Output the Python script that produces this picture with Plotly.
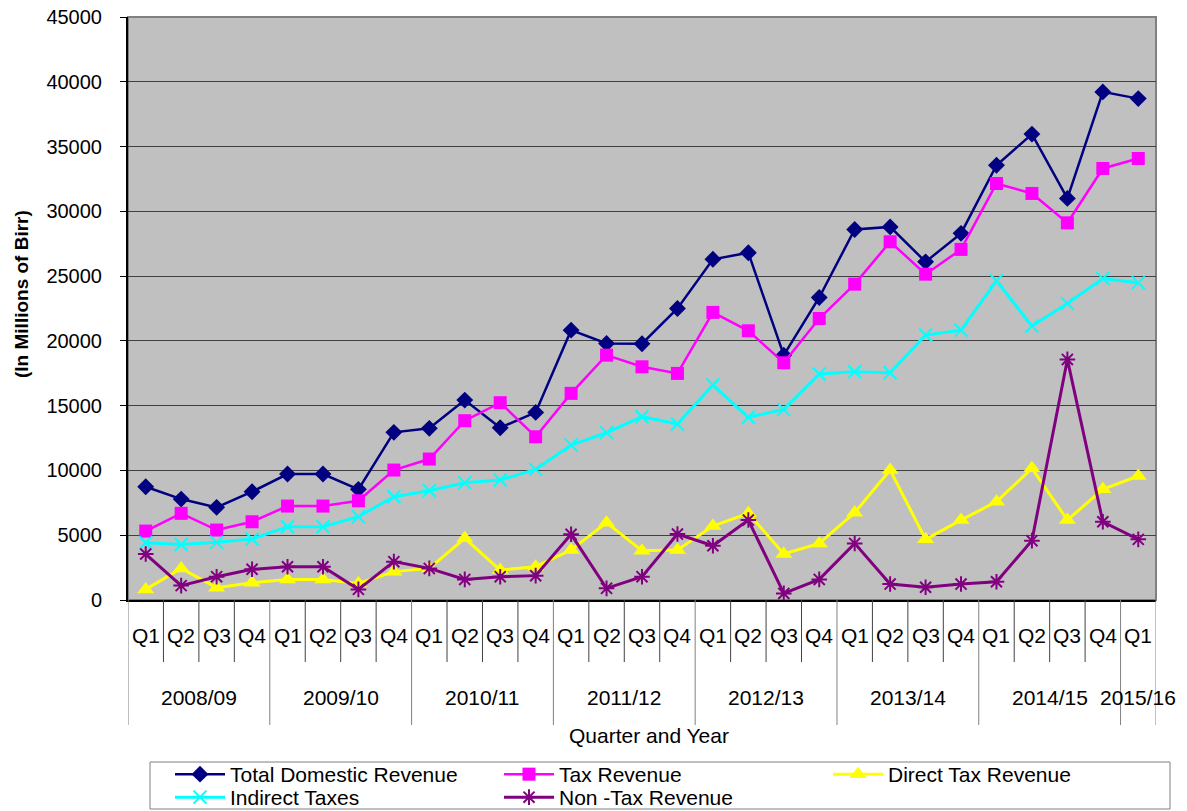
import plotly.graph_objects as go

years = (["2008/09"] * 4 + ["2009/10"] * 4 + ["2010/11"] * 4 + ["2011/12"] * 4 +
         ["2012/13"] * 4 + ["2013/14"] * 4 + ["2014/15"] * 4 + ["2015/16"])
quarters = ["Q1", "Q2", "Q3", "Q4"] * 7 + ["Q1"]

total_domestic = [8740, 7790, 7150, 8360, 9720, 9720, 8540, 12940, 13250, 15430, 13300, 14480,
                  20830, 19800, 19780, 22500, 26300, 26800, 18900, 23350, 28600, 28800, 26100, 28300,
                  33560, 35960, 31000, 39220, 38700]
tax_revenue = [5320, 6690, 5400, 6040, 7250, 7250, 7660, 10030, 10880, 13840, 15230, 12600,
               15950, 18900, 18000, 17490, 22200, 20780, 18310, 21730, 24380, 27650, 25150, 27060,
               32150, 31380, 29110, 33310, 34080]
direct_tax = [820, 2440, 950, 1340, 1590, 1590, 1280, 2190, 2440, 4760, 2310, 2570,
              3860, 5970, 3810, 3860, 5710, 6690, 3550, 4370, 6740, 10030, 4680, 6170,
              7590, 10160, 6170, 8540, 9570]
indirect_tax = [4420, 4290, 4450, 4710, 5660, 5660, 6430, 7970, 8440, 9050, 9260, 10080,
                11960, 12910, 14150, 13580, 16590, 14100, 14710, 17440, 17620, 17540, 20450, 20830,
                24640, 21140, 22890, 24820, 24490]
non_tax = [3550, 1110, 1800, 2370, 2570, 2570, 820, 2960, 2440, 1590, 1800, 1880,
           5070, 900, 1800, 5090, 4190, 6170, 510, 1590, 4370, 1230, 980, 1230,
           1410, 4580, 18570, 6040, 4680]

FONT = "Arial, Liberation Sans, sans-serif"
x = list(range(len(quarters)))

# layout geometry (pixels)
W, H = 1187, 811
ML, MR, MT, MB = 128, 31, 17, 211
PW = W - ML - MR
PH = H - MT - MB


def px_x(p):
    return (p - ML) / PW


def px_y(p):
    return (H - MB - p) / PH


fig = go.Figure()

series = [
    ("Total Domestic Revenue", total_domestic, "#000080", "diamond", 13, 2.5, "legend"),
    ("Tax Revenue", tax_revenue, "#FF00FF", "square", 13, 2.5, "legend"),
    ("Direct Tax Revenue", direct_tax, "#FFFF00", "triangle-up", 15, 3, "legend"),
    ("Indirect Taxes", indirect_tax, "#00FFFF", "x-thin", 13, 3, "legend2"),
    ("Non -Tax Revenue", non_tax, "#800080", "asterisk", 13, 3, "legend2"),
]
for name, vals, col, sym, size, lw, leg in series:
    thin = sym in ("x-thin", "asterisk")
    fig.add_trace(go.Scatter(
        x=x, y=vals, name=name, mode="lines+markers", legend=leg,
        line=dict(color=col, width=lw),
        marker=dict(symbol=sym, size=size, color=col,
                    line=dict(color=col, width=2 if thin else 0)),
    ))

# plot border (top/right gray)
fig.add_shape(type="rect", xref="paper", yref="paper", x0=0, x1=1, y0=0, y1=1,
              line=dict(color="#808080", width=2), layer="below")

# dividers under the axis
n = len(quarters)
for b in range(n + 1):
    is_year = b == 0 or b == n or years[b] != years[b - 1]
    fig.add_shape(type="line", xref="x", yref="paper", x0=b - 0.5, x1=b - 0.5,
                  y0=0, y1=px_y(725) if is_year else px_y(662),
                  line=dict(color="#808080" if is_year else "#404040", width=1))

for i, q in enumerate(quarters):
    fig.add_annotation(x=i, y=px_y(635), xref="x", yref="paper", text=q,
                       xanchor="center", yanchor="middle",
                       showarrow=False, font=dict(family=FONT, size=21, color="black"))

seen = []
for yname in years:
    if yname not in seen:
        seen.append(yname)
for yname in seen:
    idx = [i for i, v in enumerate(years) if v == yname]
    fig.add_annotation(x=sum(idx) / len(idx), y=px_y(697), xref="x", yref="paper",
                       text=yname, showarrow=False, xanchor="center", yanchor="middle",
                       font=dict(family=FONT, size=21, color="black"))

fig.add_annotation(x=px_x(649), y=px_y(735), xref="paper", yref="paper",
                   text="Quarter and Year", showarrow=False,
                   xanchor="center", yanchor="middle",
                   font=dict(family=FONT, size=21, color="black"))
fig.add_annotation(x=px_x(21), y=px_y(294), xref="paper", yref="paper",
                   text="<b>(In Millions of Birr)</b>", textangle=-90, showarrow=False,
                   xanchor="center", yanchor="middle",
                   font=dict(family=FONT, size=19, color="black"))

# legend frame
fig.add_shape(type="rect", xref="paper", yref="paper", x0=px_x(150), x1=px_x(1170),
              y0=px_y(809), y1=px_y(762), line=dict(color="#808080", width=1),
              fillcolor="white", layer="below")

leg_common = dict(orientation="h", xanchor="left", yanchor="top",
                  bgcolor="rgba(0,0,0,0)", borderwidth=0,
                  entrywidth=264, entrywidthmode="pixels", itemwidth=50,
                  font=dict(family=FONT, size=21, color="black"), tracegroupgap=0)

fig.update_layout(
    width=W, height=H,
    margin=dict(l=ML, r=MR, t=MT, b=MB, autoexpand=False),
    paper_bgcolor="white", plot_bgcolor="#C0C0C0",
    font=dict(family=FONT, size=20, color="black"),
    showlegend=True,
    legend=dict(x=px_x(170), y=px_y(754), **leg_common),
    legend2=dict(x=px_x(170), y=px_y(777), **leg_common),
    xaxis=dict(range=[-0.5, n - 0.5], showticklabels=False, showgrid=False, zeroline=False,
               showline=True, linecolor="black", linewidth=2, ticks="", fixedrange=True,
               automargin=False),
    yaxis=dict(range=[0, 45000], dtick=5000, tick0=0, tickformat="d", showgrid=True,
               gridcolor="#404040", gridwidth=1, zeroline=False, showline=True,
               linecolor="black", linewidth=2, ticks="outside", ticklen=6, tickcolor="black",
               ticklabelstandoff=14, automargin=False,
               tickfont=dict(family=FONT, size=20, color="black"), fixedrange=True),
)

fig.write_html("out.html", config={"displayModeBar": False},
               post_script="document.body.style.margin='0px';")
